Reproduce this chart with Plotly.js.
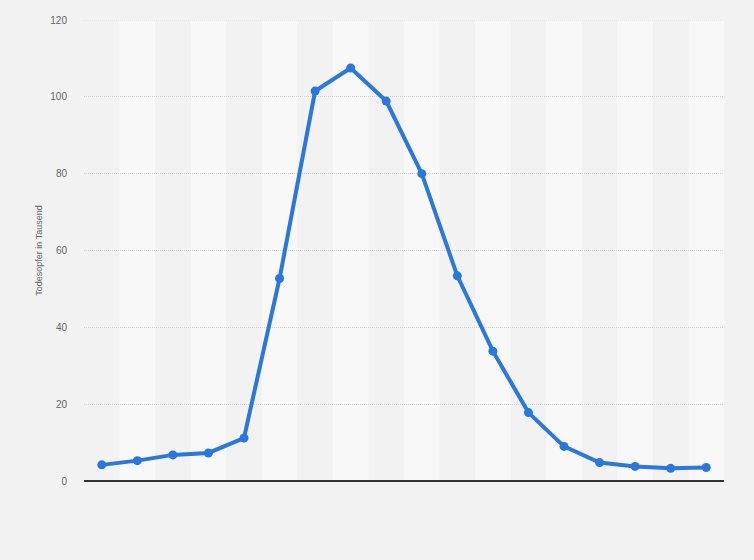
<!DOCTYPE html>
<html>
<head>
<meta charset="utf-8">
<script src="https://cdn.plot.ly/plotly-3.0.1.min.js"></script>
<style>html,body{margin:0;padding:0;background:#f2f2f2;}#chart{width:754px;height:560px;}</style>
</head>
<body>
<div id="chart"></div>
<script>
const categories = ["1","2","3","4","5","6","7","8","9","10","11","12","13","14","15","16","17","18"];
const values = [4.2, 5.3, 6.8, 7.3, 11.2, 52.7, 101.5, 107.5, 98.9, 80.0, 53.4, 33.8, 17.8, 9.0, 4.8, 3.8, 3.3, 3.5];
const yTicks = [0, 20, 40, 60, 80, 100, 120];
const yTitle = "Todesopfer in Tausend";

const shapes = [];
categories.forEach((c, i) => {
  if (i % 2 === 1) {
    shapes.push({type: 'rect', xref: 'x', yref: 'paper', x0: i - 0.5, x1: i + 0.5, y0: 0, y1: 1,
      fillcolor: '#f8f8f8', line: {width: 0}, layer: 'below'});
  }
});
// top gridline at the maximum tick (Plotly omits gridlines on the range edge)
shapes.push({type: 'line', xref: 'paper', yref: 'y', x0: 0, x1: 1,
  y0: yTicks[yTicks.length - 1], y1: yTicks[yTicks.length - 1],
  line: {color: '#d2d2d2', width: 1, dash: '1px,1px'}, layer: 'below'});

const trace = {
  x: categories.map((c, i) => i),
  y: values,
  type: 'scatter',
  mode: 'lines+markers',
  line: {color: '#2a77dd', width: 4},
  marker: {color: '#2a77dd', size: 9},
  hoverinfo: 'none'
};

const layout = {
  width: 754, height: 560,
  margin: {l: 84, r: 30, t: 20, b: 79},
  paper_bgcolor: '#f2f2f2',
  plot_bgcolor: '#f2f2f2',
  font: {family: 'Liberation Sans, Arial, sans-serif', color: '#666', size: 10},
  showlegend: false,
  shapes: shapes,
  xaxis: {
    range: [-0.5, categories.length - 0.5],
    showticklabels: false, showgrid: false, zeroline: false, ticks: '',
    tickvals: categories.map((c, i) => i), ticktext: categories,
    showline: false, fixedrange: true
  },
  yaxis: {
    range: [0, 120], tickvals: yTicks, ticktext: yTicks.map(String),
    showgrid: true, gridcolor: '#d2d2d2', griddash: '1px,1px', gridwidth: 1,
    zeroline: true, zerolinecolor: '#333', zerolinewidth: 1.5,
    ticks: '', ticklen: 0, tickfont: {size: 10, color: '#666'},
    ticklabelstandoff: 16,
    title: {text: yTitle, font: {size: 9, color: '#666'}, standoff: 6},
    showline: false, fixedrange: true
  }
};

Plotly.newPlot('chart', [trace], layout, {staticPlot: true, displayModeBar: false});
</script>
</body>
</html>
